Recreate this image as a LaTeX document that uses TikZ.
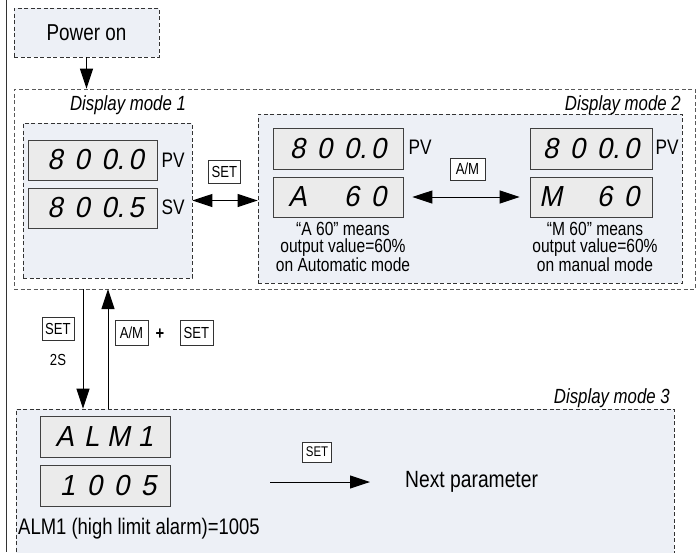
\documentclass[tikz,border=0pt]{standalone}
\usepackage{fontspec}
\setmainfont{Liberation Sans}[FakeStretch=0.82]
\newfontfamily\segfont{Liberation Sans}[FakeSlant=0.2, FakeStretch=0.95]
\usetikzlibrary{arrows.meta}
\definecolor{modefill}{RGB}{237,240,246}
\definecolor{dispfill}{RGB}{235,235,235}
\newcommand\sd[1]{\makebox[27pt]{#1}}
\tikzset{
  fs/.style={font=\fontsize{#1}{#1}\selectfont},
  modebox/.style={draw=black!80, dash pattern=on 4pt off 2.5pt, line width=0.8pt, fill=modefill, inner sep=0, rectangle},
  outerbox/.style={draw=black!65, dash pattern=on 4pt off 2.5pt, line width=0.8pt, inner sep=0, rectangle},
  disp/.style={draw=black!75, line width=0.8pt, fill=dispfill, inner sep=0, rectangle, font=\segfont\fontsize{29}{29}\selectfont},
  keybox/.style={draw=black!80, fill=white, line width=0.8pt, inner sep=0, minimum width=32pt, minimum height=23pt, font=\fontsize{16}{16}\selectfont},
  arr/.style={line width=1pt, -{Triangle[length=20pt,width=13pt]}},
  darr/.style={line width=1pt, {Triangle[length=20pt,width=13pt]}-{Triangle[length=20pt,width=13pt]}},
  lbl/.style={inner sep=0, font=\fontsize{20.5}{20}\selectfont\itshape},
  desc/.style={inner sep=0, align=center, font=\fontsize{19}{17.5}\selectfont},
}
\begin{document}
\begin{tikzpicture}[x=1pt,y=-1pt]
\useasboundingbox (0,0) rectangle (700,552);
% left border line
\draw[line width=1.2pt, black!80] (6.5,0) -- (6.5,552);
% boxes
\node[modebox, minimum width=145pt, minimum height=49pt, fs=23] (power) at (86.5,32.5) {Power on};
\node[outerbox, minimum width=681pt, minimum height=200pt] (outer) at (354.5,189) {};
\node[modebox, minimum width=169pt, minimum height=155pt] (dm1) at (107.5,200.5) {};
\node[modebox, minimum width=424pt, minimum height=169pt] (dm2) at (470,198.5) {};
\node[modebox, minimum width=658pt, minimum height=151pt] (dm3) at (345,484.5) {};
% labels
\node[lbl] (l1) at (128,105) {Display mode 1};
\node[lbl, anchor=east] (l2) at (681,105) {Display mode 2};
\node[lbl, anchor=east] (l3) at (670,398) {Display mode 3};
% displays
\node[disp, minimum width=129pt, minimum height=40pt] (d1a) at (92.5,160) {\hspace*{6pt}\sd{8}\sd{0}\sd{0\rlap{.}}\sd{0}};
\node[disp, minimum width=129pt, minimum height=40pt] (d1b) at (92.5,208) {\hspace*{6pt}\sd{8}\sd{0}\sd{0\rlap{.}}\sd{5}};
\node[disp, minimum width=130pt, minimum height=41pt] (dLa) at (338,148.5) {\sd{8}\sd{0}\sd{0\rlap{.}}\sd{0}};
\node[disp, minimum width=130pt, minimum height=40pt] (dLb) at (338,197) {\sd{A}\sd{}\sd{6}\sd{0}};
\node[disp, minimum width=122pt, minimum height=41pt] (dRa) at (591,148.5) {\sd{8}\sd{0}\sd{0\rlap{.}}\sd{0}};
\node[disp, minimum width=122pt, minimum height=40pt] (dRb) at (591,197) {\sd{M}\sd{}\sd{6}\sd{0}};
\node[disp, minimum width=130pt, minimum height=41pt] (dA) at (105,436.5) {\sd{A}\sd{L}\sd{M}\sd{1}};
\node[disp, minimum width=130pt, minimum height=41pt] (dB) at (105,485.5) {\hspace*{6pt}\sd{1}\sd{0}\sd{0}\sd{5}};
% PV / SV
\node[inner sep=0, fs=21] (pv1) at (173,160) {PV};
\node[inner sep=0, fs=21] (sv1) at (173,207) {SV};
\node[inner sep=0, fs=21] (pvL) at (420,147) {PV};
\node[inner sep=0, fs=21] (pvR) at (667,147) {PV};
% descriptions
\node[desc] (tL) at (343,247) {“A 60” means\\output value=60\%\\on Automatic mode};
\node[desc] (tR) at (595,247) {“M 60” means\\output value=60\%\\on manual mode};
\node[inner sep=0, anchor=west, fs=22.5] (alm) at (18,529) {ALM1 (high limit alarm)=1005};
\node[inner sep=0, anchor=west, fs=23.5] (next) at (405,482) {Next parameter};
% keys
\node[keybox] (k1) at (224.5,172) {SET};
\node[keybox, minimum width=35pt, minimum height=22pt] (k2) at (467.5,169) {A/M};
\node[keybox] (k3) at (58,328.5) {SET};
\node[inner sep=0, fs=16] (t2s) at (58,360) {2S};
\node[keybox, minimum width=33pt, minimum height=25pt] (k4) at (131.5,333) {A/M};
\node[inner sep=0, font=\bfseries\fontsize{18}{18}\selectfont] (plus) at (160,334) {+};
\node[keybox, minimum width=33pt, minimum height=25pt] (k5) at (196.5,333) {SET};
\node[keybox, minimum width=29pt, minimum height=20pt, fs=14] (k6) at (317,452) {SET};
% connectors
\draw[arr] (power.south) -- (power.south |- outer.north);
\draw[darr] (dm1.east) -- (dm2.west |- dm1.east);
\draw[darr] ([xshift=9pt]dLb.east) -- ([xshift=-10pt]dRb.west);
\coordinate (dnA) at (83,289);
\coordinate (upA) at (108,289);
\draw[arr] (dnA) -- (dnA |- dm3.north);
\draw[arr] (upA |- dm3.north) -- (upA);
\coordinate (nx) at (270,482);
\draw[arr] (nx) -- ([xshift=-35pt]next.west);
\end{tikzpicture}
\end{document}
